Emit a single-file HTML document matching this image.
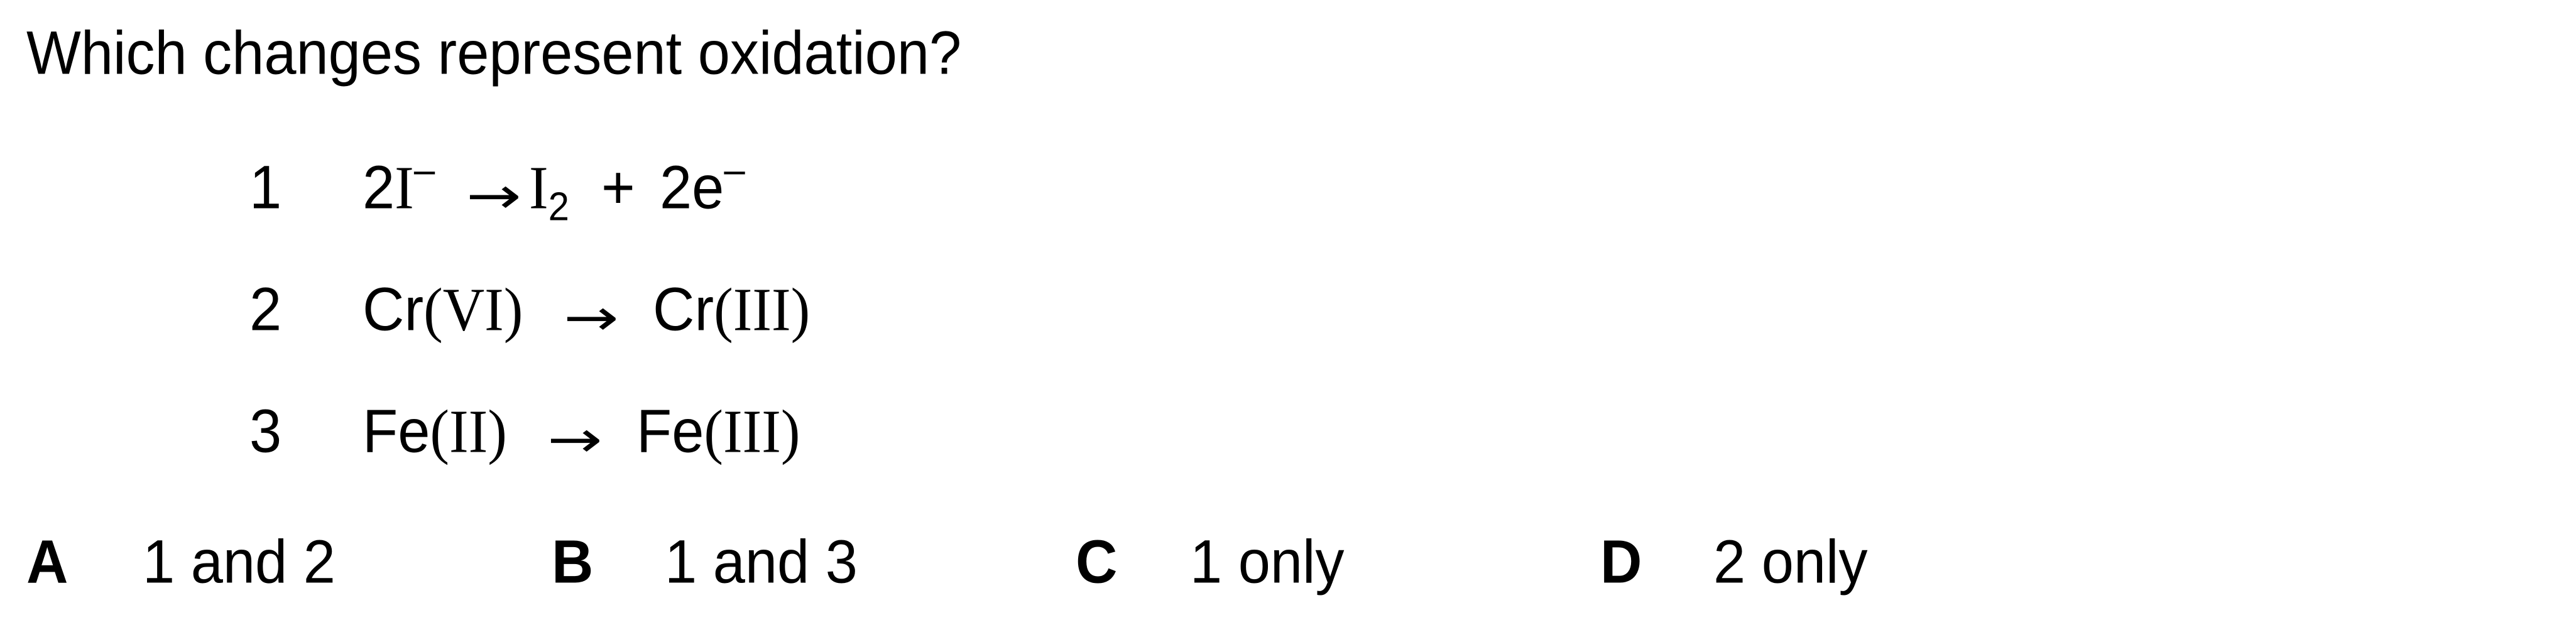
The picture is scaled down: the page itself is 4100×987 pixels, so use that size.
<!DOCTYPE html>
<html><head><meta charset="utf-8"><style>
html,body{margin:0;padding:0;background:#fff}
body{width:4100px;height:987px;position:relative;overflow:hidden;font-family:"Liberation Sans",Arial,sans-serif;color:#000}
.t{position:absolute;font-size:92px;line-height:1;white-space:nowrap;transform-origin:0 0;transform:scaleY(1.06)}
.s{font-family:"Liberation Serif","Times New Roman",serif}
.a{font-family:"DejaVu Sans",sans-serif;font-size:100px;transform:scaleX(1.05) scaleY(0.8)}
.b{font-weight:bold}
sup{font-size:60px;vertical-align:0;position:relative;top:-38px}
sub{font-size:60px;vertical-align:0;position:relative;top:18px}
</style></head><body>
<div class="t" style="left:42px;top:36px">Which changes represent oxidation?</div>

<div class="t" style="left:397px;top:250px">1</div>
<div class="t" style="left:577px;top:250px">2<span class="s">I</span><sup>–</sup></div>
<div class="t a" style="left:742px;top:272px">→</div>
<div class="t" style="left:842px;top:250px"><span class="s">I</span><sub>2</sub></div>
<div class="t" style="left:957px;top:250px">+</div>
<div class="t" style="left:1050px;top:250px">2e<sup>–</sup></div>

<div class="t" style="left:397px;top:444px">2</div>
<div class="t" style="left:577px;top:444px">Cr<span class="s">(VI)</span></div>
<div class="t a" style="left:897px;top:466px">→</div>
<div class="t" style="left:1039px;top:444px">Cr<span class="s">(III)</span></div>

<div class="t" style="left:397px;top:638px">3</div>
<div class="t" style="left:577px;top:638px">Fe<span class="s">(II)</span></div>
<div class="t a" style="left:871px;top:660px">→</div>
<div class="t" style="left:1013px;top:638px">Fe<span class="s">(III)</span></div>

<div class="t b" style="left:42px;top:846px">A</div>
<div class="t" style="left:227px;top:846px">1 and 2</div>
<div class="t b" style="left:878px;top:846px">B</div>
<div class="t" style="left:1058px;top:846px">1 and 3</div>
<div class="t b" style="left:1712px;top:846px">C</div>
<div class="t" style="left:1894px;top:846px">1 only</div>
<div class="t b" style="left:2547px;top:846px">D</div>
<div class="t" style="left:2727px;top:846px">2 only</div>
</body></html>
